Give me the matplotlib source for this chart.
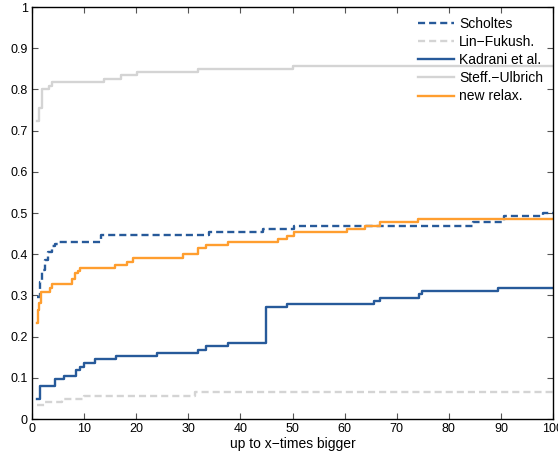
import matplotlib.pyplot as plt

plt.rcParams['font.family'] = ['Liberation Sans', 'DejaVu Sans']

# step data (x = start of step, y = value)
scholtes_x = [0.9, 1.5, 1.9, 2.4, 3.1, 3.8, 4.4, 5.0, 13.2, 34.0, 44.4, 50.2, 84.7, 90.5, 98.1, 100]
scholtes_y = [0.297, 0.333, 0.362, 0.386, 0.406, 0.420, 0.424, 0.429, 0.446, 0.453, 0.461, 0.468, 0.477, 0.493, 0.500, 0.500]

linfu_x = [1.0, 2.5, 5.8, 9.9, 31.2, 100]
linfu_y = [0.034, 0.042, 0.049, 0.057, 0.065, 0.065]

kadrani_x = [1.0, 1.5, 4.5, 6.2, 8.4, 9.2, 10.0, 12.1, 16.1, 24.0, 31.8, 33.4, 37.7, 45.0, 49.0,
             65.7, 66.8, 74.3, 74.8, 89.4, 100]
kadrani_y = [0.048, 0.080, 0.097, 0.105, 0.120, 0.127, 0.137, 0.145, 0.153, 0.159, 0.168, 0.176, 0.184,
             0.271, 0.279, 0.287, 0.294, 0.303, 0.311, 0.319, 0.319]

steff_x = [1.0, 1.4, 1.9, 3.3, 3.9, 13.8, 17.0, 20.2, 31.8, 50.0, 100]
steff_y = [0.723, 0.755, 0.801, 0.809, 0.817, 0.825, 0.834, 0.843, 0.850, 0.858, 0.858]

relax_x = [0.9, 1.1, 1.35, 1.7, 3.5, 3.9, 7.6, 8.2, 8.8, 9.2, 15.9, 18.2, 19.3, 29.0, 31.9, 33.4, 37.6,
           47.3, 48.9, 50.2, 60.4, 63.9, 66.8, 74.1, 100]
relax_y = [0.232, 0.265, 0.281, 0.309, 0.317, 0.327, 0.341, 0.354, 0.360, 0.366, 0.375, 0.382, 0.390,
           0.400, 0.414, 0.422, 0.430, 0.437, 0.445, 0.453, 0.462, 0.469, 0.477, 0.485, 0.485]

blue = '#275a9a'
grey = '#d4d4d4'
orange = '#ff9e2f'

fig = plt.figure(figsize=(5.58, 4.54), dpi=100)
ax = fig.add_axes([32 / 558, 35 / 454, 521 / 558, 412 / 454])

lw = 1.7
ax.plot(scholtes_x, scholtes_y, drawstyle='steps-post', color=blue, lw=lw, ls='--', dashes=(3.0, 1.7), label='Scholtes')
ax.plot(linfu_x, linfu_y, drawstyle='steps-post', color=grey, lw=lw, ls='--', dashes=(3.0, 1.7), label='Lin\u2212Fukush.')
ax.plot(kadrani_x, kadrani_y, drawstyle='steps-post', color=blue, lw=lw, label='Kadrani et al.')
ax.plot(steff_x, steff_y, drawstyle='steps-post', color=grey, lw=lw, label='Steff.\u2212Ulbrich')
ax.plot(relax_x, relax_y, drawstyle='steps-post', color=orange, lw=lw, label='new relax.')

ax.set_xlim(0, 100)
ax.set_ylim(0, 1)
ax.set_xticks(range(0, 101, 10))
ax.set_yticks([0, 0.1, 0.2, 0.3, 0.4, 0.5, 0.6, 0.7, 0.8, 0.9, 1])
ax.set_yticklabels(['0', '0.1', '0.2', '0.3', '0.4', '0.5', '0.6', '0.7', '0.8', '0.9', '1'])
ax.tick_params(direction='in', top=True, right=True, length=4, width=0.8, color='#555555',
               labelsize=9, pad=3)
for s in ax.spines.values():
    s.set_linewidth(1.0)
ax.set_xlabel('up to x\u2212times bigger', fontsize=10, labelpad=1)

ax.legend(loc='upper right', frameon=False, fontsize=10, handlelength=2.6,
          handletextpad=0.35, labelspacing=0.3, borderaxespad=0.4, borderpad=0.3)

fig.savefig('out.png', dpi=100)
